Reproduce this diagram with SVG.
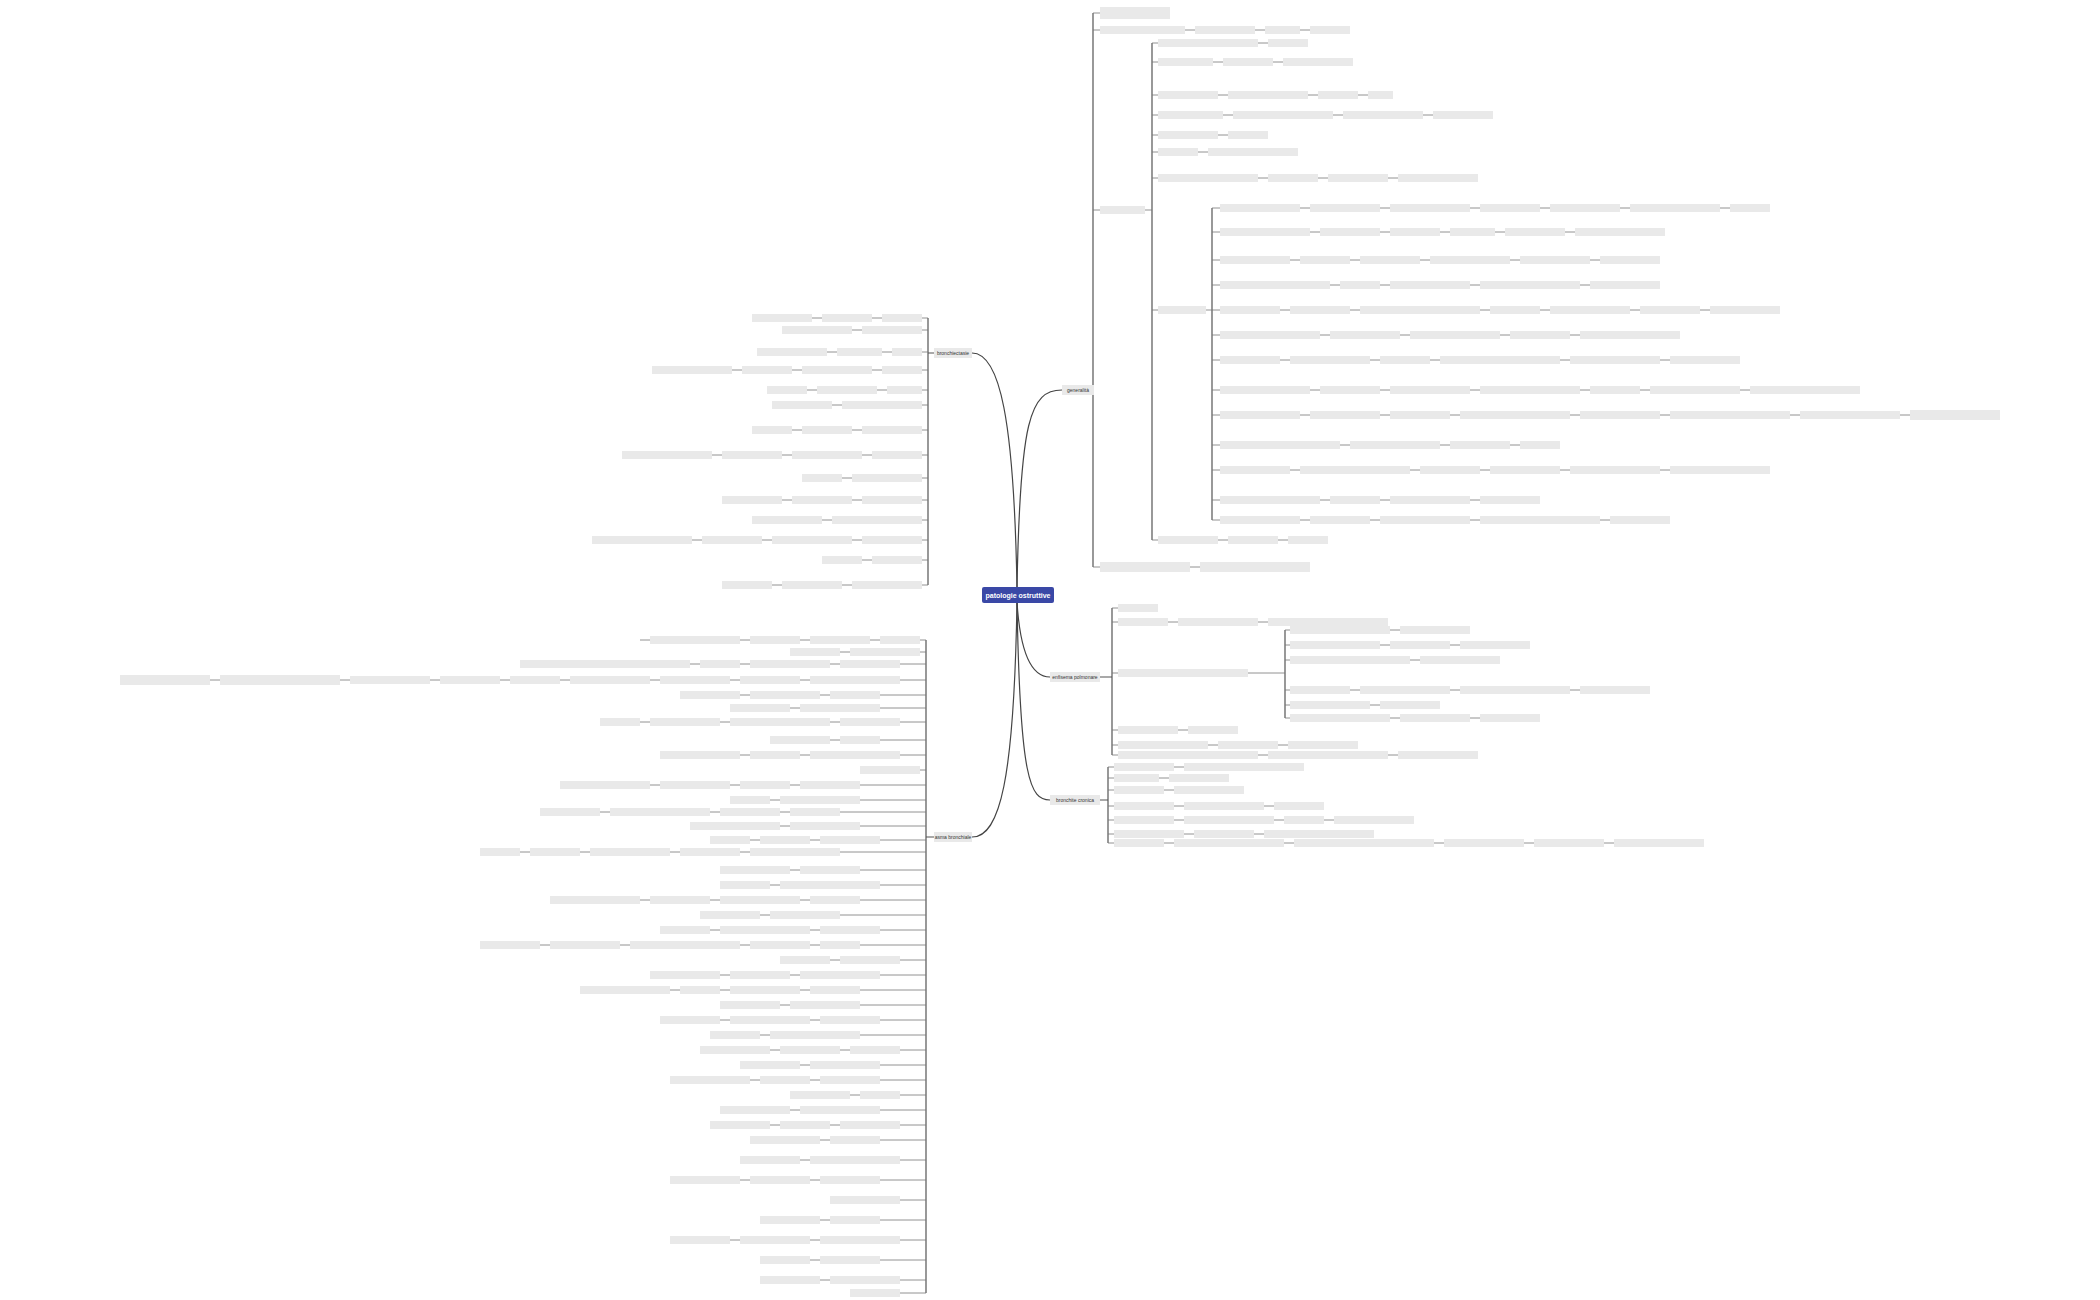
<svg xmlns="http://www.w3.org/2000/svg" width="2100" height="1300" viewBox="0 0 2100 1300">
<style>
.b{fill:#e9e9e9}
.l{fill:none;stroke:#777;stroke-width:0.8}
.v{fill:none;stroke:#555;stroke-width:1.2}
.c{fill:none;stroke:#444;stroke-width:1.2}
.t{font-family:"Liberation Sans",Arial,sans-serif;font-size:5px;fill:#333}
</style>
<rect width="2100" height="1300" fill="#fff"/>
<g id="connectors">
<path class="c" d="M1017 588 C1020 420 1030 390 1062 390"/>
<path class="c" d="M1017 602 C1020 650 1030 677 1050 677"/>
<path class="c" d="M1017 602 C1020 780 1030 800 1050 800"/>
<path class="c" d="M1017 588 C1014 420 1000 353 972 353"/>
<path class="c" d="M1017 602 C1014 780 1000 837 972 837"/>
<path class="v" d="M1094 390 H1093 M1093 13 V567 M1152 43 V540 M1212 208 V520 M1100 677 H1112 M1112 608 V755 M1285 630 V718 M1100 800 H1108 M1108 767 V843 M934 353 H928 M928 318 V585 M934 837 H926 M926 640 V1293"/>
</g>
<g id="center"><rect x="982" y="587" width="72" height="16" rx="2" fill="#3a48a6"/><text x="1018" y="598" text-anchor="middle" class="t" style="fill:#fff;font-weight:bold;font-size:7px">patologie ostruttive</text></g>
<g id="n-a"><rect class="b" x="1062" y="385" width="32" height="10"/><text class="t" x="1078" y="392" text-anchor="middle">generalità</text></g>
<g id="n-b"><rect class="b" x="1050" y="672" width="50" height="10"/><text class="t" x="1075" y="679" text-anchor="middle">enfisema polmonare</text></g>
<g id="n-c"><rect class="b" x="1050" y="795" width="50" height="10"/><text class="t" x="1075" y="802" text-anchor="middle">bronchite cronica</text></g>
<g id="n-d"><rect class="b" x="934" y="348" width="38" height="10"/><text class="t" x="953" y="355" text-anchor="middle">bronchiectasie</text></g>
<g id="n-e"><rect class="b" x="934" y="832" width="38" height="10"/><text class="t" x="953" y="839" text-anchor="middle">asma bronchiale</text></g>

<g id="rows-a">
<g transform="translate(1100,13)"><path class="l" d="M-7 0H70"/><rect class="b" y="-6" width="70" height="12"/></g>
<g transform="translate(1100,30)"><path class="l" d="M-7 0H250"/><rect class="b" y="-4" width="85" height="8"/><rect class="b" x="95" y="-4" width="60" height="8"/><rect class="b" x="165" y="-4" width="35" height="8"/><rect class="b" x="210" y="-4" width="40" height="8"/></g>
<g transform="translate(1100,210)"><path class="l" d="M-7 0H52"/><rect class="b" y="-4" width="45" height="8"/></g>
<g transform="translate(1100,567)"><path class="l" d="M-7 0H210"/><rect class="b" y="-5" width="90" height="10"/><rect class="b" x="100" y="-5" width="110" height="10"/></g>
<g transform="translate(1158,43)"><path class="l" d="M-6 0H150"/><rect class="b" y="-4" width="100" height="8"/><rect class="b" x="110" y="-4" width="40" height="8"/></g>
<g transform="translate(1158,62)"><path class="l" d="M-6 0H195"/><rect class="b" y="-4" width="55" height="8"/><rect class="b" x="65" y="-4" width="50" height="8"/><rect class="b" x="125" y="-4" width="70" height="8"/></g>
<g transform="translate(1158,95)"><path class="l" d="M-6 0H235"/><rect class="b" y="-4" width="60" height="8"/><rect class="b" x="70" y="-4" width="80" height="8"/><rect class="b" x="160" y="-4" width="40" height="8"/><rect class="b" x="210" y="-4" width="25" height="8"/></g>
<g transform="translate(1158,115)"><path class="l" d="M-6 0H335"/><rect class="b" y="-4" width="65" height="8"/><rect class="b" x="75" y="-4" width="100" height="8"/><rect class="b" x="185" y="-4" width="80" height="8"/><rect class="b" x="275" y="-4" width="60" height="8"/></g>
<g transform="translate(1158,135)"><path class="l" d="M-6 0H110"/><rect class="b" y="-4" width="60" height="8"/><rect class="b" x="70" y="-4" width="40" height="8"/></g>
<g transform="translate(1158,152)"><path class="l" d="M-6 0H140"/><rect class="b" y="-4" width="40" height="8"/><rect class="b" x="50" y="-4" width="90" height="8"/></g>
<g transform="translate(1158,178)"><path class="l" d="M-6 0H320"/><rect class="b" y="-4" width="100" height="8"/><rect class="b" x="110" y="-4" width="50" height="8"/><rect class="b" x="170" y="-4" width="60" height="8"/><rect class="b" x="240" y="-4" width="80" height="8"/></g>
<g transform="translate(1158,310)"><path class="l" d="M-6 0H54"/><rect class="b" y="-4" width="48" height="8"/></g>
<g transform="translate(1158,540)"><path class="l" d="M-6 0H170"/><rect class="b" y="-4" width="60" height="8"/><rect class="b" x="70" y="-4" width="50" height="8"/><rect class="b" x="130" y="-4" width="40" height="8"/></g>
<g transform="translate(1220,208)"><path class="l" d="M-8 0H550"/><rect class="b" y="-4" width="80" height="8"/><rect class="b" x="90" y="-4" width="70" height="8"/><rect class="b" x="170" y="-4" width="80" height="8"/><rect class="b" x="260" y="-4" width="60" height="8"/><rect class="b" x="330" y="-4" width="70" height="8"/><rect class="b" x="410" y="-4" width="90" height="8"/><rect class="b" x="510" y="-4" width="40" height="8"/></g>
<g transform="translate(1220,232)"><path class="l" d="M-8 0H445"/><rect class="b" y="-4" width="90" height="8"/><rect class="b" x="100" y="-4" width="60" height="8"/><rect class="b" x="170" y="-4" width="50" height="8"/><rect class="b" x="230" y="-4" width="45" height="8"/><rect class="b" x="285" y="-4" width="60" height="8"/><rect class="b" x="355" y="-4" width="90" height="8"/></g>
<g transform="translate(1220,260)"><path class="l" d="M-8 0H440"/><rect class="b" y="-4" width="70" height="8"/><rect class="b" x="80" y="-4" width="50" height="8"/><rect class="b" x="140" y="-4" width="60" height="8"/><rect class="b" x="210" y="-4" width="80" height="8"/><rect class="b" x="300" y="-4" width="70" height="8"/><rect class="b" x="380" y="-4" width="60" height="8"/></g>
<g transform="translate(1220,285)"><path class="l" d="M-8 0H440"/><rect class="b" y="-4" width="110" height="8"/><rect class="b" x="120" y="-4" width="40" height="8"/><rect class="b" x="170" y="-4" width="80" height="8"/><rect class="b" x="260" y="-4" width="100" height="8"/><rect class="b" x="370" y="-4" width="70" height="8"/></g>
<g transform="translate(1220,310)"><path class="l" d="M-8 0H560"/><rect class="b" y="-4" width="60" height="8"/><rect class="b" x="70" y="-4" width="60" height="8"/><rect class="b" x="140" y="-4" width="120" height="8"/><rect class="b" x="270" y="-4" width="50" height="8"/><rect class="b" x="330" y="-4" width="80" height="8"/><rect class="b" x="420" y="-4" width="60" height="8"/><rect class="b" x="490" y="-4" width="70" height="8"/></g>
<g transform="translate(1220,335)"><path class="l" d="M-8 0H460"/><rect class="b" y="-4" width="100" height="8"/><rect class="b" x="110" y="-4" width="70" height="8"/><rect class="b" x="190" y="-4" width="90" height="8"/><rect class="b" x="290" y="-4" width="60" height="8"/><rect class="b" x="360" y="-4" width="100" height="8"/></g>
<g transform="translate(1220,360)"><path class="l" d="M-8 0H520"/><rect class="b" y="-4" width="60" height="8"/><rect class="b" x="70" y="-4" width="80" height="8"/><rect class="b" x="160" y="-4" width="50" height="8"/><rect class="b" x="220" y="-4" width="120" height="8"/><rect class="b" x="350" y="-4" width="90" height="8"/><rect class="b" x="450" y="-4" width="70" height="8"/></g>
<g transform="translate(1220,390)"><path class="l" d="M-8 0H640"/><rect class="b" y="-4" width="90" height="8"/><rect class="b" x="100" y="-4" width="60" height="8"/><rect class="b" x="170" y="-4" width="80" height="8"/><rect class="b" x="260" y="-4" width="100" height="8"/><rect class="b" x="370" y="-4" width="50" height="8"/><rect class="b" x="430" y="-4" width="90" height="8"/><rect class="b" x="530" y="-4" width="110" height="8"/></g>
<g transform="translate(1220,415)"><path class="l" d="M-8 0H780"/><rect class="b" y="-4" width="80" height="8"/><rect class="b" x="90" y="-4" width="70" height="8"/><rect class="b" x="170" y="-4" width="60" height="8"/><rect class="b" x="240" y="-4" width="110" height="8"/><rect class="b" x="360" y="-4" width="80" height="8"/><rect class="b" x="450" y="-4" width="120" height="8"/><rect class="b" x="580" y="-4" width="100" height="8"/><rect class="b" x="690" y="-5" width="90" height="10"/></g>
<g transform="translate(1220,445)"><path class="l" d="M-8 0H340"/><rect class="b" y="-4" width="120" height="8"/><rect class="b" x="130" y="-4" width="90" height="8"/><rect class="b" x="230" y="-4" width="60" height="8"/><rect class="b" x="300" y="-4" width="40" height="8"/></g>
<g transform="translate(1220,470)"><path class="l" d="M-8 0H550"/><rect class="b" y="-4" width="70" height="8"/><rect class="b" x="80" y="-4" width="110" height="8"/><rect class="b" x="200" y="-4" width="60" height="8"/><rect class="b" x="270" y="-4" width="70" height="8"/><rect class="b" x="350" y="-4" width="90" height="8"/><rect class="b" x="450" y="-4" width="100" height="8"/></g>
<g transform="translate(1220,500)"><path class="l" d="M-8 0H320"/><rect class="b" y="-4" width="100" height="8"/><rect class="b" x="110" y="-4" width="50" height="8"/><rect class="b" x="170" y="-4" width="80" height="8"/><rect class="b" x="260" y="-4" width="60" height="8"/></g>
<g transform="translate(1220,520)"><path class="l" d="M-8 0H450"/><rect class="b" y="-4" width="80" height="8"/><rect class="b" x="90" y="-4" width="60" height="8"/><rect class="b" x="160" y="-4" width="90" height="8"/><rect class="b" x="260" y="-4" width="120" height="8"/><rect class="b" x="390" y="-4" width="60" height="8"/></g>
</g>

<g id="rows-b">
<g transform="translate(1118,608)"><path class="l" d="M-6 0H40"/><rect class="b" y="-4" width="40" height="8"/></g>
<g transform="translate(1118,622)"><path class="l" d="M-6 0H270"/><rect class="b" y="-4" width="50" height="8"/><rect class="b" x="60" y="-4" width="80" height="8"/><rect class="b" x="150" y="-4" width="120" height="8"/></g>
<g transform="translate(1118,673)"><path class="l" d="M-6 0H167"/><rect class="b" y="-4" width="130" height="8"/></g>
<g transform="translate(1290,630)"><path class="l" d="M-5 0H180"/><rect class="b" y="-4" width="100" height="8"/><rect class="b" x="110" y="-4" width="70" height="8"/></g>
<g transform="translate(1290,645)"><path class="l" d="M-5 0H240"/><rect class="b" y="-4" width="90" height="8"/><rect class="b" x="100" y="-4" width="60" height="8"/><rect class="b" x="170" y="-4" width="70" height="8"/></g>
<g transform="translate(1290,660)"><path class="l" d="M-5 0H210"/><rect class="b" y="-4" width="120" height="8"/><rect class="b" x="130" y="-4" width="80" height="8"/></g>
<g transform="translate(1290,690)"><path class="l" d="M-5 0H360"/><rect class="b" y="-4" width="60" height="8"/><rect class="b" x="70" y="-4" width="90" height="8"/><rect class="b" x="170" y="-4" width="110" height="8"/><rect class="b" x="290" y="-4" width="70" height="8"/></g>
<g transform="translate(1290,705)"><path class="l" d="M-5 0H150"/><rect class="b" y="-4" width="80" height="8"/><rect class="b" x="90" y="-4" width="60" height="8"/></g>
<g transform="translate(1290,718)"><path class="l" d="M-5 0H250"/><rect class="b" y="-4" width="100" height="8"/><rect class="b" x="110" y="-4" width="70" height="8"/><rect class="b" x="190" y="-4" width="60" height="8"/></g>
<g transform="translate(1118,730)"><path class="l" d="M-6 0H120"/><rect class="b" y="-4" width="60" height="8"/><rect class="b" x="70" y="-4" width="50" height="8"/></g>
<g transform="translate(1118,745)"><path class="l" d="M-6 0H240"/><rect class="b" y="-4" width="90" height="8"/><rect class="b" x="100" y="-4" width="60" height="8"/><rect class="b" x="170" y="-4" width="70" height="8"/></g>
<g transform="translate(1118,755)"><path class="l" d="M-6 0H360"/><rect class="b" y="-4" width="140" height="8"/><rect class="b" x="150" y="-4" width="120" height="8"/><rect class="b" x="280" y="-4" width="80" height="8"/></g>
</g>

<g id="rows-c">
<g transform="translate(1114,767)"><path class="l" d="M-6 0H190"/><rect class="b" y="-4" width="60" height="8"/><rect class="b" x="70" y="-4" width="120" height="8"/></g>
<g transform="translate(1114,778)"><path class="l" d="M-6 0H115"/><rect class="b" y="-4" width="45" height="8"/><rect class="b" x="55" y="-4" width="60" height="8"/></g>
<g transform="translate(1114,790)"><path class="l" d="M-6 0H130"/><rect class="b" y="-4" width="50" height="8"/><rect class="b" x="60" y="-4" width="70" height="8"/></g>
<g transform="translate(1114,806)"><path class="l" d="M-6 0H210"/><rect class="b" y="-4" width="60" height="8"/><rect class="b" x="70" y="-4" width="80" height="8"/><rect class="b" x="160" y="-4" width="50" height="8"/></g>
<g transform="translate(1114,820)"><path class="l" d="M-6 0H300"/><rect class="b" y="-4" width="60" height="8"/><rect class="b" x="70" y="-4" width="90" height="8"/><rect class="b" x="170" y="-4" width="40" height="8"/><rect class="b" x="220" y="-4" width="80" height="8"/></g>
<g transform="translate(1114,834)"><path class="l" d="M-6 0H260"/><rect class="b" y="-4" width="70" height="8"/><rect class="b" x="80" y="-4" width="60" height="8"/><rect class="b" x="150" y="-4" width="110" height="8"/></g>
<g transform="translate(1114,843)"><path class="l" d="M-6 0H590"/><rect class="b" y="-4" width="50" height="8"/><rect class="b" x="60" y="-4" width="110" height="8"/><rect class="b" x="180" y="-4" width="140" height="8"/><rect class="b" x="330" y="-4" width="80" height="8"/><rect class="b" x="420" y="-4" width="70" height="8"/><rect class="b" x="500" y="-4" width="90" height="8"/></g>
</g>

<g id="rows-d">
<g transform="translate(922,318)"><path class="l" d="M-170 0H6"/><rect class="b" x="-40" y="-4" width="40" height="8"/><rect class="b" x="-100" y="-4" width="50" height="8"/><rect class="b" x="-170" y="-4" width="60" height="8"/></g>
<g transform="translate(922,330)"><path class="l" d="M-140 0H6"/><rect class="b" x="-60" y="-4" width="60" height="8"/><rect class="b" x="-140" y="-4" width="70" height="8"/></g>
<g transform="translate(922,352)"><path class="l" d="M-165 0H6"/><rect class="b" x="-30" y="-4" width="30" height="8"/><rect class="b" x="-85" y="-4" width="45" height="8"/><rect class="b" x="-165" y="-4" width="70" height="8"/></g>
<g transform="translate(922,370)"><path class="l" d="M-270 0H6"/><rect class="b" x="-40" y="-4" width="40" height="8"/><rect class="b" x="-120" y="-4" width="70" height="8"/><rect class="b" x="-180" y="-4" width="50" height="8"/><rect class="b" x="-270" y="-4" width="80" height="8"/></g>
<g transform="translate(922,390)"><path class="l" d="M-155 0H6"/><rect class="b" x="-35" y="-4" width="35" height="8"/><rect class="b" x="-105" y="-4" width="60" height="8"/><rect class="b" x="-155" y="-4" width="40" height="8"/></g>
<g transform="translate(922,405)"><path class="l" d="M-150 0H6"/><rect class="b" x="-80" y="-4" width="80" height="8"/><rect class="b" x="-150" y="-4" width="60" height="8"/></g>
<g transform="translate(922,430)"><path class="l" d="M-170 0H6"/><rect class="b" x="-60" y="-4" width="60" height="8"/><rect class="b" x="-120" y="-4" width="50" height="8"/><rect class="b" x="-170" y="-4" width="40" height="8"/></g>
<g transform="translate(922,455)"><path class="l" d="M-300 0H6"/><rect class="b" x="-50" y="-4" width="50" height="8"/><rect class="b" x="-130" y="-4" width="70" height="8"/><rect class="b" x="-200" y="-4" width="60" height="8"/><rect class="b" x="-300" y="-4" width="90" height="8"/></g>
<g transform="translate(922,478)"><path class="l" d="M-120 0H6"/><rect class="b" x="-70" y="-4" width="70" height="8"/><rect class="b" x="-120" y="-4" width="40" height="8"/></g>
<g transform="translate(922,500)"><path class="l" d="M-200 0H6"/><rect class="b" x="-60" y="-4" width="60" height="8"/><rect class="b" x="-130" y="-4" width="60" height="8"/><rect class="b" x="-200" y="-4" width="60" height="8"/></g>
<g transform="translate(922,520)"><path class="l" d="M-170 0H6"/><rect class="b" x="-90" y="-4" width="90" height="8"/><rect class="b" x="-170" y="-4" width="70" height="8"/></g>
<g transform="translate(922,540)"><path class="l" d="M-330 0H6"/><rect class="b" x="-60" y="-4" width="60" height="8"/><rect class="b" x="-150" y="-4" width="80" height="8"/><rect class="b" x="-220" y="-4" width="60" height="8"/><rect class="b" x="-330" y="-4" width="100" height="8"/></g>
<g transform="translate(922,560)"><path class="l" d="M-100 0H6"/><rect class="b" x="-50" y="-4" width="50" height="8"/><rect class="b" x="-100" y="-4" width="40" height="8"/></g>
<g transform="translate(922,585)"><path class="l" d="M-200 0H6"/><rect class="b" x="-70" y="-4" width="70" height="8"/><rect class="b" x="-140" y="-4" width="60" height="8"/><rect class="b" x="-200" y="-4" width="50" height="8"/></g>
</g>

<g id="rows-e">
<g transform="translate(920,640)"><path class="l" d="M-280 0H6"/><rect class="b" x="-40" y="-4" width="40" height="8"/><rect class="b" x="-110" y="-4" width="60" height="8"/><rect class="b" x="-170" y="-4" width="50" height="8"/><rect class="b" x="-270" y="-4" width="90" height="8"/></g>
<g transform="translate(920,652)"><path class="l" d="M-130 0H6"/><rect class="b" x="-70" y="-4" width="70" height="8"/><rect class="b" x="-130" y="-4" width="50" height="8"/></g>
<g transform="translate(900,664)"><path class="l" d="M-380 0H26"/><rect class="b" x="-60" y="-4" width="60" height="8"/><rect class="b" x="-150" y="-4" width="80" height="8"/><rect class="b" x="-200" y="-4" width="40" height="8"/><rect class="b" x="-280" y="-4" width="70" height="8"/><rect class="b" x="-380" y="-4" width="100" height="8"/></g>
<g transform="translate(900,680)"><path class="l" d="M-780 0H26"/><rect class="b" x="-90" y="-4" width="90" height="8"/><rect class="b" x="-160" y="-4" width="60" height="8"/><rect class="b" x="-240" y="-4" width="70" height="8"/><rect class="b" x="-330" y="-4" width="80" height="8"/><rect class="b" x="-390" y="-4" width="50" height="8"/><rect class="b" x="-460" y="-4" width="60" height="8"/><rect class="b" x="-550" y="-4" width="80" height="8"/><rect class="b" x="-680" y="-5" width="120" height="10"/><rect class="b" x="-780" y="-5" width="90" height="10"/></g>
<g transform="translate(880,695)"><path class="l" d="M-200 0H46"/><rect class="b" x="-50" y="-4" width="50" height="8"/><rect class="b" x="-130" y="-4" width="70" height="8"/><rect class="b" x="-200" y="-4" width="60" height="8"/></g>
<g transform="translate(880,708)"><path class="l" d="M-150 0H46"/><rect class="b" x="-80" y="-4" width="80" height="8"/><rect class="b" x="-150" y="-4" width="60" height="8"/></g>
<g transform="translate(900,722)"><path class="l" d="M-300 0H26"/><rect class="b" x="-60" y="-4" width="60" height="8"/><rect class="b" x="-170" y="-4" width="100" height="8"/><rect class="b" x="-250" y="-4" width="70" height="8"/><rect class="b" x="-300" y="-4" width="40" height="8"/></g>
<g transform="translate(880,740)"><path class="l" d="M-110 0H46"/><rect class="b" x="-40" y="-4" width="40" height="8"/><rect class="b" x="-110" y="-4" width="60" height="8"/></g>
<g transform="translate(900,755)"><path class="l" d="M-240 0H26"/><rect class="b" x="-90" y="-4" width="90" height="8"/><rect class="b" x="-150" y="-4" width="50" height="8"/><rect class="b" x="-240" y="-4" width="80" height="8"/></g>
<g transform="translate(920,770)"><path class="l" d="M-60 0H6"/><rect class="b" x="-60" y="-4" width="60" height="8"/></g>
<g transform="translate(860,785)"><path class="l" d="M-300 0H66"/><rect class="b" x="-60" y="-4" width="60" height="8"/><rect class="b" x="-120" y="-4" width="50" height="8"/><rect class="b" x="-200" y="-4" width="70" height="8"/><rect class="b" x="-300" y="-4" width="90" height="8"/></g>
<g transform="translate(860,800)"><path class="l" d="M-130 0H66"/><rect class="b" x="-80" y="-4" width="80" height="8"/><rect class="b" x="-130" y="-4" width="40" height="8"/></g>
<g transform="translate(840,812)"><path class="l" d="M-300 0H86"/><rect class="b" x="-50" y="-4" width="50" height="8"/><rect class="b" x="-120" y="-4" width="60" height="8"/><rect class="b" x="-230" y="-4" width="100" height="8"/><rect class="b" x="-300" y="-4" width="60" height="8"/></g>
<g transform="translate(860,826)"><path class="l" d="M-170 0H66"/><rect class="b" x="-70" y="-4" width="70" height="8"/><rect class="b" x="-170" y="-4" width="90" height="8"/></g>
<g transform="translate(880,840)"><path class="l" d="M-170 0H46"/><rect class="b" x="-60" y="-4" width="60" height="8"/><rect class="b" x="-120" y="-4" width="50" height="8"/><rect class="b" x="-170" y="-4" width="40" height="8"/></g>
<g transform="translate(840,852)"><path class="l" d="M-360 0H86"/><rect class="b" x="-90" y="-4" width="90" height="8"/><rect class="b" x="-160" y="-4" width="60" height="8"/><rect class="b" x="-250" y="-4" width="80" height="8"/><rect class="b" x="-310" y="-4" width="50" height="8"/><rect class="b" x="-360" y="-4" width="40" height="8"/></g>
<g transform="translate(860,870)"><path class="l" d="M-140 0H66"/><rect class="b" x="-60" y="-4" width="60" height="8"/><rect class="b" x="-140" y="-4" width="70" height="8"/></g>
<g transform="translate(880,885)"><path class="l" d="M-160 0H46"/><rect class="b" x="-100" y="-4" width="100" height="8"/><rect class="b" x="-160" y="-4" width="50" height="8"/></g>
<g transform="translate(860,900)"><path class="l" d="M-310 0H66"/><rect class="b" x="-50" y="-4" width="50" height="8"/><rect class="b" x="-140" y="-4" width="80" height="8"/><rect class="b" x="-210" y="-4" width="60" height="8"/><rect class="b" x="-310" y="-4" width="90" height="8"/></g>
<g transform="translate(840,915)"><path class="l" d="M-140 0H86"/><rect class="b" x="-70" y="-4" width="70" height="8"/><rect class="b" x="-140" y="-4" width="60" height="8"/></g>
<g transform="translate(880,930)"><path class="l" d="M-220 0H46"/><rect class="b" x="-60" y="-4" width="60" height="8"/><rect class="b" x="-160" y="-4" width="90" height="8"/><rect class="b" x="-220" y="-4" width="50" height="8"/></g>
<g transform="translate(860,945)"><path class="l" d="M-380 0H66"/><rect class="b" x="-40" y="-4" width="40" height="8"/><rect class="b" x="-110" y="-4" width="60" height="8"/><rect class="b" x="-230" y="-4" width="110" height="8"/><rect class="b" x="-310" y="-4" width="70" height="8"/><rect class="b" x="-380" y="-4" width="60" height="8"/></g>
<g transform="translate(900,960)"><path class="l" d="M-120 0H26"/><rect class="b" x="-60" y="-4" width="60" height="8"/><rect class="b" x="-120" y="-4" width="50" height="8"/></g>
<g transform="translate(880,975)"><path class="l" d="M-230 0H46"/><rect class="b" x="-80" y="-4" width="80" height="8"/><rect class="b" x="-150" y="-4" width="60" height="8"/><rect class="b" x="-230" y="-4" width="70" height="8"/></g>
<g transform="translate(860,990)"><path class="l" d="M-280 0H66"/><rect class="b" x="-50" y="-4" width="50" height="8"/><rect class="b" x="-130" y="-4" width="70" height="8"/><rect class="b" x="-180" y="-4" width="40" height="8"/><rect class="b" x="-280" y="-4" width="90" height="8"/></g>
<g transform="translate(860,1005)"><path class="l" d="M-140 0H66"/><rect class="b" x="-70" y="-4" width="70" height="8"/><rect class="b" x="-140" y="-4" width="60" height="8"/></g>
<g transform="translate(880,1020)"><path class="l" d="M-220 0H46"/><rect class="b" x="-60" y="-4" width="60" height="8"/><rect class="b" x="-150" y="-4" width="80" height="8"/><rect class="b" x="-220" y="-4" width="60" height="8"/></g>
<g transform="translate(860,1035)"><path class="l" d="M-150 0H66"/><rect class="b" x="-90" y="-4" width="90" height="8"/><rect class="b" x="-150" y="-4" width="50" height="8"/></g>
<g transform="translate(900,1050)"><path class="l" d="M-200 0H26"/><rect class="b" x="-50" y="-4" width="50" height="8"/><rect class="b" x="-120" y="-4" width="60" height="8"/><rect class="b" x="-200" y="-4" width="70" height="8"/></g>
<g transform="translate(880,1065)"><path class="l" d="M-140 0H46"/><rect class="b" x="-70" y="-4" width="70" height="8"/><rect class="b" x="-140" y="-4" width="60" height="8"/></g>
<g transform="translate(880,1080)"><path class="l" d="M-210 0H46"/><rect class="b" x="-60" y="-4" width="60" height="8"/><rect class="b" x="-120" y="-4" width="50" height="8"/><rect class="b" x="-210" y="-4" width="80" height="8"/></g>
<g transform="translate(900,1095)"><path class="l" d="M-110 0H26"/><rect class="b" x="-40" y="-4" width="40" height="8"/><rect class="b" x="-110" y="-4" width="60" height="8"/></g>
<g transform="translate(880,1110)"><path class="l" d="M-160 0H46"/><rect class="b" x="-80" y="-4" width="80" height="8"/><rect class="b" x="-160" y="-4" width="70" height="8"/></g>
<g transform="translate(900,1125)"><path class="l" d="M-190 0H26"/><rect class="b" x="-60" y="-4" width="60" height="8"/><rect class="b" x="-120" y="-4" width="50" height="8"/><rect class="b" x="-190" y="-4" width="60" height="8"/></g>
<g transform="translate(880,1140)"><path class="l" d="M-130 0H46"/><rect class="b" x="-50" y="-4" width="50" height="8"/><rect class="b" x="-130" y="-4" width="70" height="8"/></g>
<g transform="translate(900,1160)"><path class="l" d="M-160 0H26"/><rect class="b" x="-90" y="-4" width="90" height="8"/><rect class="b" x="-160" y="-4" width="60" height="8"/></g>
<g transform="translate(880,1180)"><path class="l" d="M-210 0H46"/><rect class="b" x="-60" y="-4" width="60" height="8"/><rect class="b" x="-130" y="-4" width="60" height="8"/><rect class="b" x="-210" y="-4" width="70" height="8"/></g>
<g transform="translate(900,1200)"><path class="l" d="M-70 0H26"/><rect class="b" x="-70" y="-4" width="70" height="8"/></g>
<g transform="translate(880,1220)"><path class="l" d="M-120 0H46"/><rect class="b" x="-50" y="-4" width="50" height="8"/><rect class="b" x="-120" y="-4" width="60" height="8"/></g>
<g transform="translate(900,1240)"><path class="l" d="M-230 0H26"/><rect class="b" x="-80" y="-4" width="80" height="8"/><rect class="b" x="-160" y="-4" width="70" height="8"/><rect class="b" x="-230" y="-4" width="60" height="8"/></g>
<g transform="translate(880,1260)"><path class="l" d="M-120 0H46"/><rect class="b" x="-60" y="-4" width="60" height="8"/><rect class="b" x="-120" y="-4" width="50" height="8"/></g>
<g transform="translate(900,1280)"><path class="l" d="M-140 0H26"/><rect class="b" x="-70" y="-4" width="70" height="8"/><rect class="b" x="-140" y="-4" width="60" height="8"/></g>
<g transform="translate(900,1293)"><path class="l" d="M-50 0H26"/><rect class="b" x="-50" y="-4" width="50" height="8"/></g>
</g>
</svg>
